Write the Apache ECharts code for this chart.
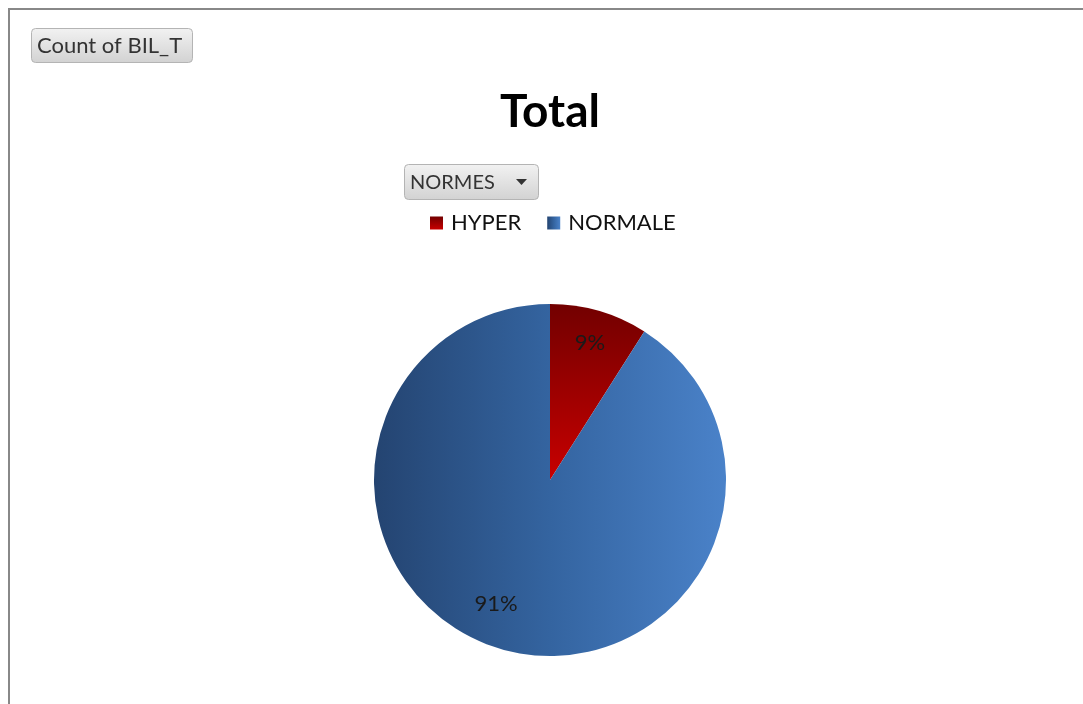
<!DOCTYPE html>
<html>
<head>
<meta charset="utf-8">
<script src="https://cdn.jsdelivr.net/npm/echarts@6/dist/echarts.min.js"></script>
<style>
  html, body { margin: 0; padding: 0; background: #fff; }
  #chart { width: 1083px; height: 704px; }
</style>
</head>
<body>
<div id="chart"></div>
<script>
  // values (percent of total)
  const categories = ["HYPER", "NORMALE"];
  const counts = [9, 91];
  const chartTitle = "Total";
  const fieldButton = "Count of BIL_T";
  const filterButton = "NORMES";

  const font = "Lato, 'Open Sans', sans-serif";
  const fills = [
    new echarts.graphic.LinearGradient(0, 0, 0, 1, [
      { offset: 0, color: "#720000" }, { offset: 1, color: "#c80000" }
    ]),
    new echarts.graphic.LinearGradient(0, 0, 1, 0, [
      { offset: 0, color: "#244471" }, { offset: 0.5, color: "#3464a0" }, { offset: 1, color: "#4a82c9" }
    ])
  ];
  // the big slice's label sits a little further round in the original
  const labelShift = [[0, 0], [-14, -13]];
  const pieData = categories.map((name, i) => ({ name, value: counts[i], itemStyle: { color: fills[i] } }));
  const labelData = categories.map((name, i) => ({ name, value: counts[i], label: { offset: labelShift[i] } }));

  const buttonFill = new echarts.graphic.LinearGradient(0, 0, 0, 1, [
    { offset: 0, color: "#f2f2f2" }, { offset: 1, color: "#d2d2d2" }
  ]);

  const chart = echarts.init(document.getElementById("chart"), null, { renderer: "canvas" });
  chart.setOption({
    animation: false,
    title: {
      text: chartTitle, left: 495, top: 84,
      textStyle: { fontFamily: font, fontWeight: "bold", fontSize: 46, color: "#000" }
    },
    legend: {
      left: 425, top: 207, itemWidth: 13, itemHeight: 13, itemGap: 26, icon: "rect",
      data: categories,
      textStyle: { fontFamily: font, fontSize: 22, color: "#111", padding: [0, 0, 0, 3] }
    },
    graphic: [
      { type: "rect", shape: { x: 9, y: 9, width: 1090, height: 720 }, style: { fill: "none", stroke: "#888", lineWidth: 2 }, silent: true },
      { type: "rect", shape: { x: 31.5, y: 28.5, width: 161, height: 34, r: 4 }, style: { fill: buttonFill, stroke: "#b4b4b4", lineWidth: 1 } },
      { type: "text", x: 37, y: 46, style: { text: fieldButton, fontFamily: font, fontSize: 22, fill: "#333", verticalAlign: "middle" } },
      { type: "rect", shape: { x: 404.5, y: 164.5, width: 134, height: 35, r: 4 }, style: { fill: buttonFill, stroke: "#b4b4b4", lineWidth: 1 } },
      { type: "text", x: 410, y: 183, style: { text: filterButton, fontFamily: font, fontSize: 20, fill: "#333", verticalAlign: "middle" } },
      { type: "polygon", shape: { points: [[516, 179], [527, 179], [521.5, 185]] }, style: { fill: "#333" } }
    ],
    series: [
      {
        type: "pie", center: [550, 480], radius: 176, startAngle: 90, clockwise: true,
        label: { show: false }, labelLine: { show: false },
        itemStyle: { borderWidth: 0 },
        data: pieData
      },
      {
        // transparent ring that only places the percent labels
        type: "pie", center: [550, 480], radius: [104, 176], startAngle: 90, clockwise: true, silent: true,
        itemStyle: { color: "rgba(0,0,0,0)" },
        label: { show: true, position: "inside", formatter: "{d}%", fontFamily: font, fontSize: 22, color: "#1a1a1a" },
        labelLine: { show: false },
        data: labelData
      }
    ]
  });
</script>
</body>
</html>
